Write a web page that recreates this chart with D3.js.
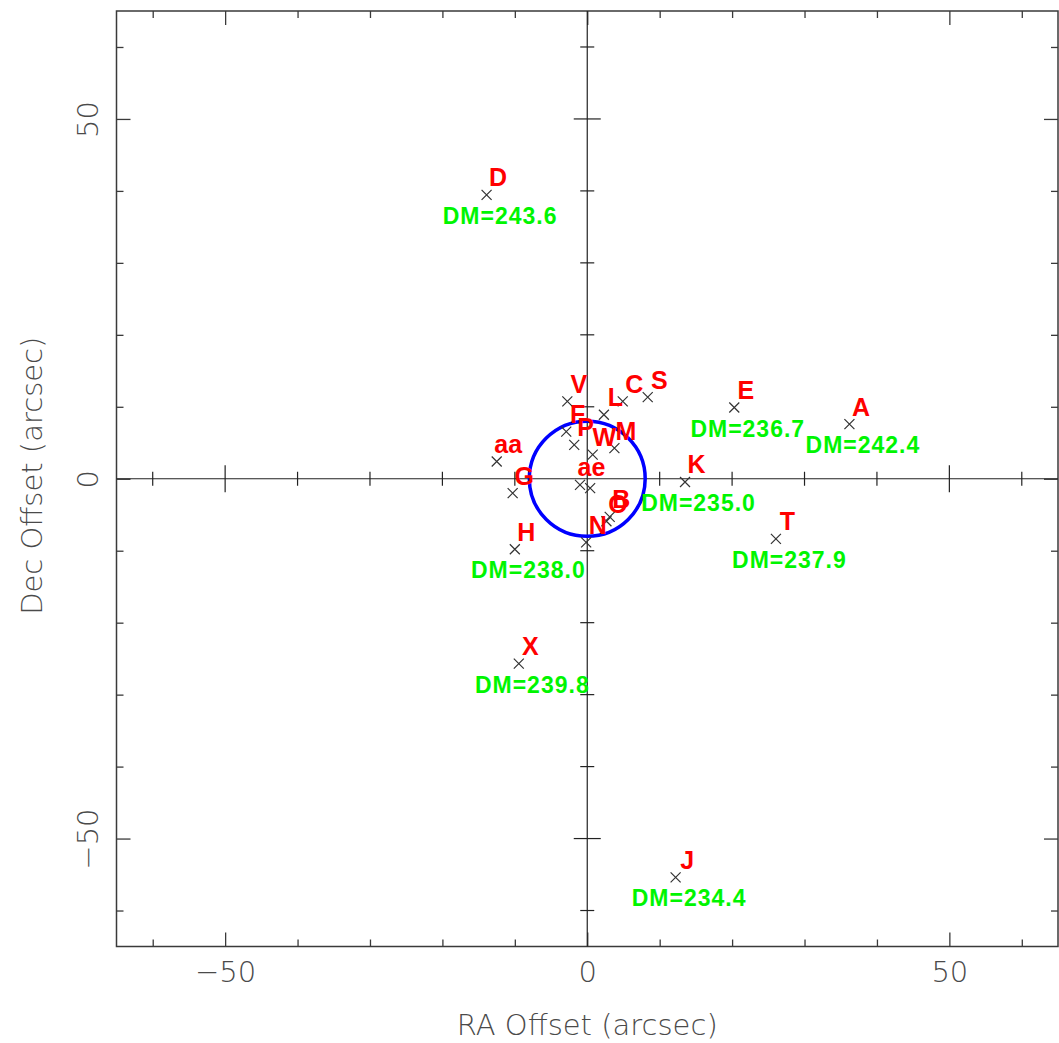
<!DOCTYPE html>
<html>
<head>
<meta charset="utf-8">
<script src="https://cdn.jsdelivr.net/npm/d3@7"></script>
<style>
  html, body { margin: 0; padding: 0; background: #fff; }
  svg { display: block; }
  .tick-label { font-family: "DejaVu Sans", sans-serif; font-weight: 200; fill: #4a4a4a; }
  .src-label { font-family: "Liberation Sans", Arial, sans-serif; font-weight: bold; fill: #ff0000; }
  .dm-label { font-family: "Liberation Sans", Arial, sans-serif; font-weight: bold; fill: #00f500; letter-spacing: 1px; }
</style>
</head>
<body>
<svg id="chart" width="1059" height="1043"></svg>
<script>
// Source identifiers and their offsets from the field centre (arcsec);
// an empty identifier marks a source drawn without a name
const sourceIds  = ["A", "B", "C", "D", "E", "F", "G", "H", "J", "K", "L", "M", "N", "O", "P", "S", "T", "V", "W", "X", "aa", "ae", ""];
const raOffsets  = [36.2, 3.1, 4.9, -13.9, 20.3, -2.9, -10.3, -10.0, 12.2, 13.5, 2.3, 3.75, -0.15, 2.65, -1.8, 8.35, 26.05, -2.75, 0.75, -9.45, -12.5, -1.0, 0.4];
const decOffsets = [7.6, -5.3, 10.75, 39.45, 9.9, 6.55, -2.0, -9.8, -55.4, -0.45, 8.9, 4.25, -8.85, -5.9, 4.7, 11.35, -8.35, 10.75, 3.35, -25.7, 2.4, -0.85, -1.3];
// Dispersion measures, where one was measured
const dmValues   = [242.4, null, null, 243.6, 236.7, null, null, 238.0, 234.4, 235.0, null, null, null, null, null, null, 237.9, null, null, 239.8, null, null, null];

const axisDomain = [-65, 65];
const majorTicks = [-50, 0, 50];
const minorTicks = [-60, -40, -30, -20, -10, 10, 20, 30, 40, 60];
const zeroAxisTicks = [-60, -50, -40, -30, -20, -10, 10, 20, 30, 40, 50, 60];
const beamRadius = 8;

const svg = d3.select("#chart");
const plotLeft = 116.5, plotRight = 1058, plotTop = 11, plotBottom = 946.5;

const x = d3.scaleLinear().domain(axisDomain).range([plotLeft, plotRight]);
const y = d3.scaleLinear().domain(axisDomain).range([plotBottom, plotTop]);

const frameColor = "#3a3a3a";
const fmt = d3.format("");

// Frame
svg.append("rect")
  .attr("x", plotLeft).attr("y", plotTop)
  .attr("width", plotRight - plotLeft).attr("height", plotBottom - plotTop)
  .attr("fill", "none").attr("stroke", frameColor).attr("stroke-width", 1.5);

function styleAxis(g) {
  g.select(".domain").remove();
  g.selectAll(".tick line").attr("stroke", frameColor).attr("stroke-width", 1.3);
}

// Inward ticks on all four sides
const bottomMinor = svg.append("g").attr("transform", `translate(0,${plotBottom})`)
  .call(d3.axisBottom(x).tickValues(minorTicks).tickSize(-7).tickFormat(""));
const bottomMajor = svg.append("g").attr("transform", `translate(0,${plotBottom})`)
  .call(d3.axisBottom(x).tickValues(majorTicks).tickSize(-14).tickPadding(16).tickFormat(fmt));
const topMinor = svg.append("g").attr("transform", `translate(0,${plotTop})`)
  .call(d3.axisTop(x).tickValues(minorTicks).tickSize(-7).tickFormat(""));
const topMajor = svg.append("g").attr("transform", `translate(0,${plotTop})`)
  .call(d3.axisTop(x).tickValues(majorTicks).tickSize(-14).tickFormat(""));
const leftMinor = svg.append("g").attr("transform", `translate(${plotLeft},0)`)
  .call(d3.axisLeft(y).tickValues(minorTicks).tickSize(-7).tickFormat(""));
const leftMajor = svg.append("g").attr("transform", `translate(${plotLeft},0)`)
  .call(d3.axisLeft(y).tickValues(majorTicks).tickSize(-14).tickFormat(fmt));
const rightMinor = svg.append("g").attr("transform", `translate(${plotRight},0)`)
  .call(d3.axisRight(y).tickValues(minorTicks).tickSize(-7).tickFormat(""));
const rightMajor = svg.append("g").attr("transform", `translate(${plotRight},0)`)
  .call(d3.axisRight(y).tickValues(majorTicks).tickSize(-14).tickFormat(""));

[bottomMinor, bottomMajor, topMinor, topMajor, leftMinor, leftMajor, rightMinor, rightMajor].forEach(styleAxis);

bottomMajor.selectAll(".tick text")
  .attr("class", "tick-label")
  .attr("font-size", 29)
  .attr("fill", null)
  .attr("y", 35).attr("dy", null);

leftMajor.selectAll(".tick text")
  .attr("class", "tick-label")
  .attr("font-size", 29)
  .attr("fill", null)
  .attr("x", null).attr("dy", null)
  .attr("text-anchor", "middle")
  .attr("transform", "translate(-18.5,0) rotate(-90)");

// Axes through the origin, with ticks crossing them
const zeroColor = "#222";
svg.append("line")
  .attr("x1", plotLeft).attr("x2", plotRight).attr("y1", y(0)).attr("y2", y(0))
  .attr("stroke", zeroColor).attr("stroke-width", 1.2);
svg.append("line")
  .attr("x1", x(0)).attr("x2", x(0)).attr("y1", plotTop).attr("y2", plotBottom)
  .attr("stroke", zeroColor).attr("stroke-width", 1.2);

const halfLen = d => (majorTicks.includes(d) ? 13.5 : 7);
svg.append("g").selectAll("line").data(zeroAxisTicks).join("line")
  .attr("x1", d => x(d)).attr("x2", d => x(d))
  .attr("y1", d => y(0) - halfLen(d)).attr("y2", d => y(0) + halfLen(d))
  .attr("stroke", zeroColor).attr("stroke-width", 1.2);
svg.append("g").selectAll("line").data(zeroAxisTicks).join("line")
  .attr("y1", d => y(d)).attr("y2", d => y(d))
  .attr("x1", d => x(0) - halfLen(d)).attr("x2", d => x(0) + halfLen(d))
  .attr("stroke", zeroColor).attr("stroke-width", 1.2);

// Axis titles
svg.append("text")
  .attr("class", "tick-label")
  .attr("font-size", 29)
  .attr("text-anchor", "middle")
  .attr("x", (plotLeft + plotRight) / 2).attr("y", 1035)
  .text("RA Offset (arcsec)");
svg.append("text")
  .attr("class", "tick-label")
  .attr("font-size", 29)
  .attr("text-anchor", "middle")
  .attr("transform", `translate(42,${(plotTop + plotBottom) / 2 - 3}) rotate(-90)`)
  .text("Dec Offset (arcsec)");

// Beam circle
svg.append("ellipse")
  .attr("cx", x(0)).attr("cy", y(0))
  .attr("rx", x(beamRadius) - x(0)).attr("ry", y(0) - y(beamRadius))
  .attr("fill", "none").attr("stroke", "#0000ff").attr("stroke-width", 3.5);

const sources = sourceIds.map((id, i) => ({ id, ra: raOffsets[i], dec: decOffsets[i], dm: dmValues[i] }));

// Source markers
svg.append("g").selectAll("path").data(sources).join("path")
  .attr("transform", d => `translate(${x(d.ra)},${y(d.dec)})`)
  .attr("d", "M-5,-5L5,5M-5,5L5,-5")
  .attr("stroke", "#333").attr("stroke-width", 1.2).attr("fill", "none");

// Source names
svg.append("g").selectAll("text").data(sources.filter(d => d.id)).join("text")
  .attr("class", "src-label")
  .attr("font-size", 25)
  .attr("text-anchor", "middle")
  .attr("x", d => x(d.ra) + 11.5)
  .attr("y", d => y(d.dec) - 8.5)
  .text(d => d.id);

// Dispersion measure annotations
svg.append("g").selectAll("text").data(sources.filter(d => d.dm !== null)).join("text")
  .attr("class", "dm-label")
  .attr("font-size", 23)
  .attr("text-anchor", "middle")
  .attr("x", d => x(d.ra) + 13.5)
  .attr("y", d => y(d.dec) + 29)
  .text(d => "DM=" + d.dm.toFixed(1));
</script>
</body>
</html>
